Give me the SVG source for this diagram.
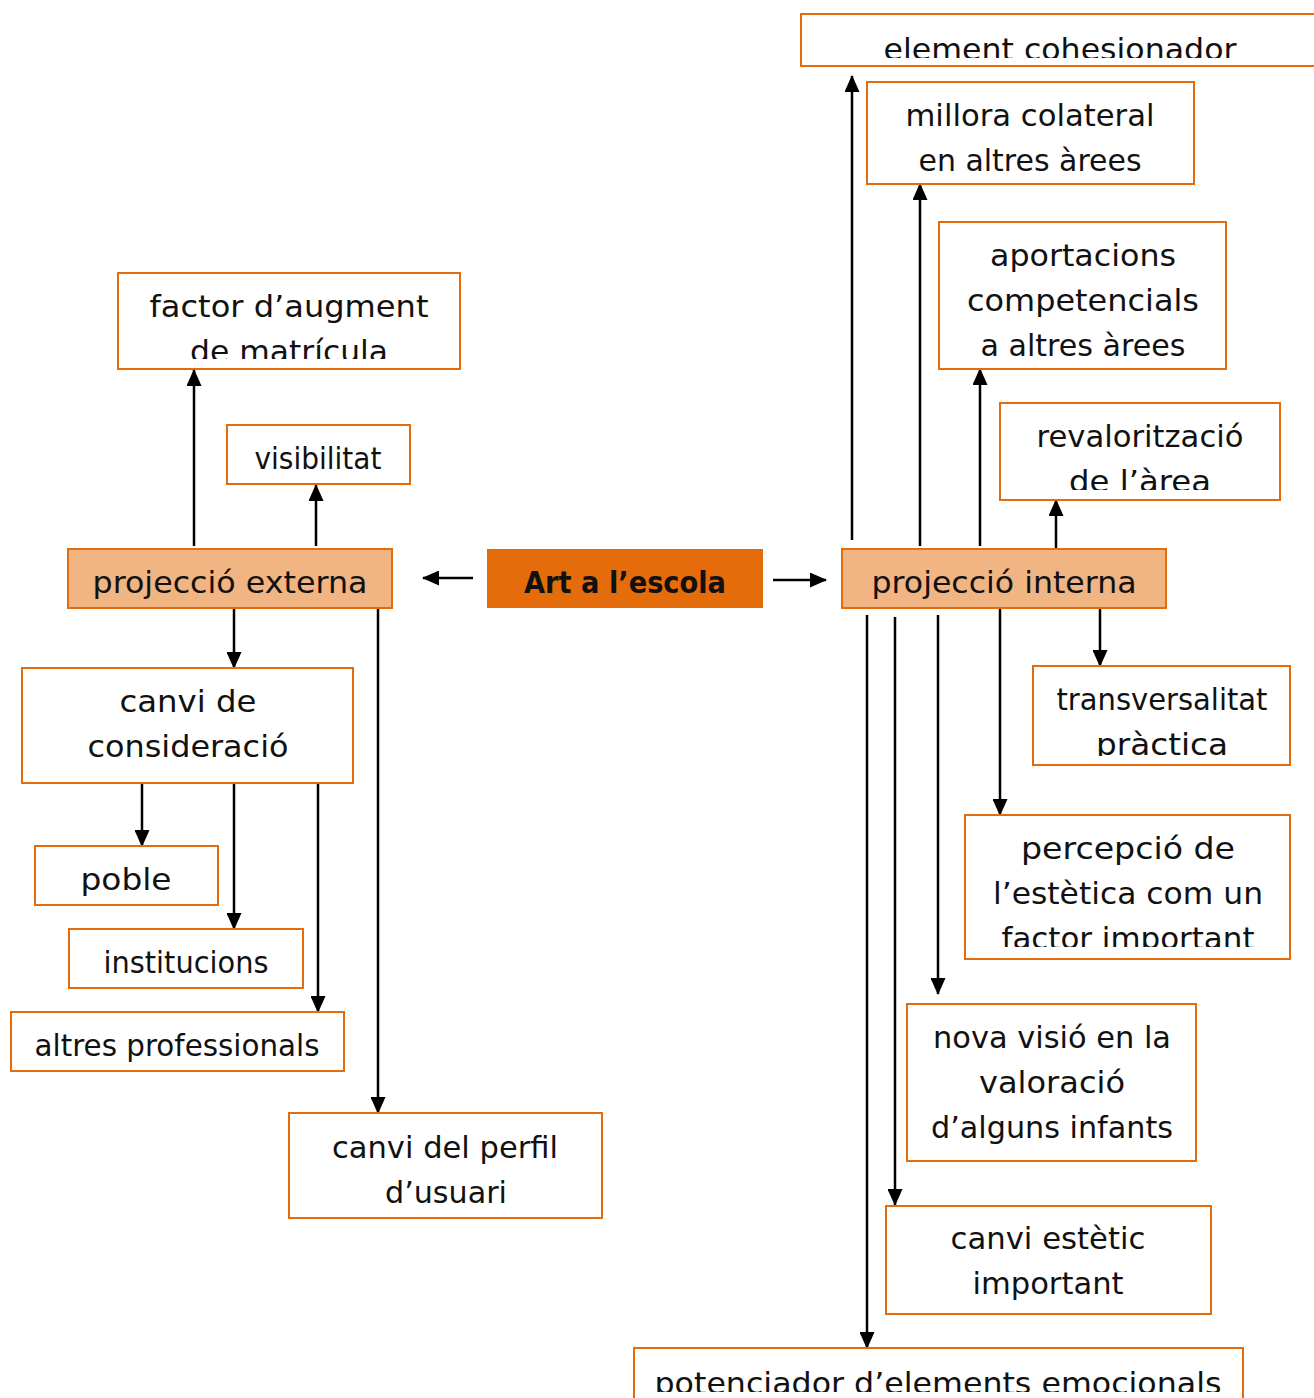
<svg xmlns="http://www.w3.org/2000/svg" width="1314" height="1398" viewBox="0 0 1314 1398">
<style>
.box{fill:#ffffff;stroke:#E46C0A;stroke-width:2}
.proj{fill:#F1B483;stroke:#E46C0A;stroke-width:2}
.main{fill:#E46C0A;stroke:none}
text{font-family:"DejaVu Sans","Liberation Sans",sans-serif;font-size:31px;fill:#111;text-anchor:middle}
.b{font-weight:bold;fill:#111}
.con path{fill:none;stroke:#000;stroke-width:2.5}
</style>
<defs>
<marker id="ah" markerUnits="userSpaceOnUse" markerWidth="17" markerHeight="15" refX="16" refY="7.5" orient="auto">
<path d="M0,0 L17,7.5 L0,15 z" fill="#000"/>
</marker>
<clipPath id="c1"><rect x="801" y="14" width="513" height="44"/></clipPath>
<clipPath id="c4"><rect x="1000" y="403" width="280" height="87"/></clipPath>
<clipPath id="c5"><rect x="118" y="273" width="342" height="86"/></clipPath>
<clipPath id="c15"><rect x="1033" y="666" width="257" height="90"/></clipPath>
<clipPath id="c16"><rect x="965" y="815" width="325" height="132"/></clipPath>
<clipPath id="c19"><rect x="634" y="1348" width="609" height="44"/></clipPath>
</defs>

<g class="con">
<path d="M773,580 H826" marker-end="url(#ah)"/>
<path d="M473,578 H423" marker-end="url(#ah)"/>
<path d="M194,546 V370" marker-end="url(#ah)"/>
<path d="M316,546 V485" marker-end="url(#ah)"/>
<path d="M234,608 V668" marker-end="url(#ah)"/>
<path d="M378,608 V1113" marker-end="url(#ah)"/>
<path d="M142,784 V846" marker-end="url(#ah)"/>
<path d="M234,784 V929" marker-end="url(#ah)"/>
<path d="M318,783 V1012" marker-end="url(#ah)"/>
<path d="M852,540 V76" marker-end="url(#ah)"/>
<path d="M920,546 V184" marker-end="url(#ah)"/>
<path d="M980,546 V369" marker-end="url(#ah)"/>
<path d="M1056,549 V500" marker-end="url(#ah)"/>
<path d="M1100,606 V666" marker-end="url(#ah)"/>
<path d="M1000,608 V815" marker-end="url(#ah)"/>
<path d="M938,615 V994" marker-end="url(#ah)"/>
<path d="M895,617 V1205" marker-end="url(#ah)"/>
<path d="M867,615 V1348" marker-end="url(#ah)"/>
</g>

<g id="element-cohesionador">
<rect class="box" x="801" y="14" width="520" height="52"/>
<text x="1060" y="60" textLength="353" lengthAdjust="spacingAndGlyphs" clip-path="url(#c1)">element cohesionador</text>
</g>
<g id="millora-colateral">
<rect class="box" x="867" y="82" width="327" height="102"/>
<text x="1030" y="126" textLength="249" lengthAdjust="spacingAndGlyphs">millora colateral</text>
<text x="1030" y="171" textLength="223" lengthAdjust="spacingAndGlyphs">en altres àrees</text>
</g>
<g id="aportacions">
<rect class="box" x="939" y="222" width="287" height="147"/>
<text x="1083" y="266" textLength="186" lengthAdjust="spacingAndGlyphs">aportacions</text>
<text x="1083" y="311" textLength="232" lengthAdjust="spacingAndGlyphs">competencials</text>
<text x="1083" y="356" textLength="205" lengthAdjust="spacingAndGlyphs">a altres àrees</text>
</g>
<g id="revaloritzacio">
<rect class="box" x="1000" y="403" width="280" height="97"/>
<text x="1140" y="447" textLength="207" lengthAdjust="spacingAndGlyphs">revalorització</text>
<text x="1140" y="492" textLength="142" lengthAdjust="spacingAndGlyphs" clip-path="url(#c4)">de l’àrea</text>
</g>
<g id="factor-augment">
<rect class="box" x="118" y="273" width="342" height="96"/>
<text x="289" y="317" textLength="279" lengthAdjust="spacingAndGlyphs">factor d’augment</text>
<text x="289" y="362" textLength="198" lengthAdjust="spacingAndGlyphs" clip-path="url(#c5)">de matrícula</text>
</g>
<g id="visibilitat">
<rect class="box" x="227" y="425" width="183" height="59"/>
<text x="318" y="469" textLength="127" lengthAdjust="spacingAndGlyphs">visibilitat</text>
</g>
<g id="projeccio-externa">
<rect class="proj" x="68" y="549" width="324" height="59"/>
<text x="230" y="593" textLength="275" lengthAdjust="spacingAndGlyphs">projecció externa</text>
</g>
<g id="art-escola">
<rect class="main" x="487" y="549" width="276" height="59"/>
<text class="b" x="625" y="593" textLength="202" lengthAdjust="spacingAndGlyphs">Art a l’escola</text>
</g>
<g id="projeccio-interna">
<rect class="proj" x="842" y="549" width="324" height="59"/>
<text x="1004" y="593" textLength="265" lengthAdjust="spacingAndGlyphs">projecció interna</text>
</g>
<g id="canvi-consideracio">
<rect class="box" x="22" y="668" width="331" height="115"/>
<text x="188" y="712" textLength="137" lengthAdjust="spacingAndGlyphs">canvi de</text>
<text x="188" y="757" textLength="201" lengthAdjust="spacingAndGlyphs">consideració</text>
</g>
<g id="poble">
<rect class="box" x="35" y="846" width="183" height="59"/>
<text x="126" y="890" textLength="91" lengthAdjust="spacingAndGlyphs">poble</text>
</g>
<g id="institucions">
<rect class="box" x="69" y="929" width="234" height="59"/>
<text x="186" y="973" textLength="165" lengthAdjust="spacingAndGlyphs">institucions</text>
</g>
<g id="altres-professionals">
<rect class="box" x="11" y="1012" width="333" height="59"/>
<text x="177" y="1056" textLength="285" lengthAdjust="spacingAndGlyphs">altres professionals</text>
</g>
<g id="canvi-perfil">
<rect class="box" x="289" y="1113" width="313" height="105"/>
<text x="445" y="1158" textLength="226" lengthAdjust="spacingAndGlyphs">canvi del perfil</text>
<text x="446" y="1203" textLength="122" lengthAdjust="spacingAndGlyphs">d’usuari</text>
</g>
<g id="transversalitat">
<rect class="box" x="1033" y="666" width="257" height="99"/>
<text x="1162" y="710" textLength="211" lengthAdjust="spacingAndGlyphs">transversalitat</text>
<text x="1162" y="755" textLength="132" lengthAdjust="spacingAndGlyphs" clip-path="url(#c15)">pràctica</text>
</g>
<g id="percepcio-estetica">
<rect class="box" x="965" y="815" width="325" height="144"/>
<text x="1128" y="859" textLength="214" lengthAdjust="spacingAndGlyphs">percepció de</text>
<text x="1128" y="904" textLength="270" lengthAdjust="spacingAndGlyphs">l’estètica com un</text>
<text x="1128" y="949" textLength="253" lengthAdjust="spacingAndGlyphs" clip-path="url(#c16)">factor important</text>
</g>
<g id="nova-visio">
<rect class="box" x="907" y="1004" width="289" height="157"/>
<text x="1052" y="1048" textLength="238" lengthAdjust="spacingAndGlyphs">nova visió en la</text>
<text x="1052" y="1093" textLength="146" lengthAdjust="spacingAndGlyphs">valoració</text>
<text x="1052" y="1138" textLength="242" lengthAdjust="spacingAndGlyphs">d’alguns infants</text>
</g>
<g id="canvi-estetic">
<rect class="box" x="886" y="1206" width="325" height="108"/>
<text x="1048" y="1249" textLength="195" lengthAdjust="spacingAndGlyphs">canvi estètic</text>
<text x="1048" y="1294" textLength="151" lengthAdjust="spacingAndGlyphs">important</text>
</g>
<g id="potenciador">
<rect class="box" x="634" y="1348" width="609" height="60"/>
<text x="938" y="1394" textLength="567" lengthAdjust="spacingAndGlyphs" clip-path="url(#c19)">potenciador d’elements emocionals</text>
</g>
</svg>
